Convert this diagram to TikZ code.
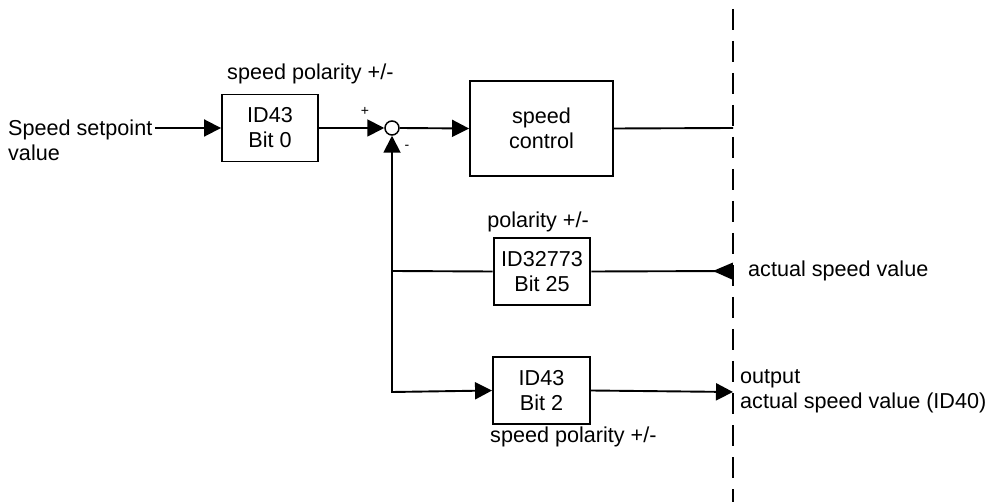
\documentclass[tikz,border=0pt]{standalone}
\usepackage{fontspec}
\setmainfont{Liberation Sans}
\usetikzlibrary{arrows.meta}
\begin{document}
\begin{tikzpicture}[x=1pt,y=-1pt,
  txt/.style={font=\fontsize{21.6}{25}\selectfont, inner sep=0pt, align=left},
  blk/.style={draw, line width=1.9pt, font=\fontsize{21.6}{25}\selectfont, align=center, inner sep=0pt},
  conn/.style={line width=1.9pt},
  arr/.style={conn, -{Triangle[length=17pt,width=17pt]}},
  sgn/.style={font=\fontsize{14}{16}\selectfont, inner sep=0pt}]
\useasboundingbox (0,0) rectangle (985,502);
% boundary
\draw[line width=2.8pt, dash pattern=on 21pt off 11pt] (733,9) -- (733,502);
% blocks
\node[blk, minimum width=96pt, minimum height=67pt] (b0) at (270,128) {ID43\\Bit 0};
\node[draw, line width=1.5pt, circle, minimum size=14pt, inner sep=0pt] (sum) at (392,128) {};
\node[blk, minimum width=143pt, minimum height=95pt] (sc) at (541.5,128.5) {speed\\control};
\node[blk, line width=2.8pt, minimum width=96pt, minimum height=67pt] (b25) at (542,271.5) {ID32773\\Bit 25};
\node[blk, minimum width=97pt, minimum height=67pt] (b2) at (541.5,390.5) {ID43\\Bit 2};
% labels
\node[txt, anchor=west] (inlab) at (8,140) {Speed setpoint\\value};
\node[txt, anchor=west] (pol0) at (227,74) {speed polarity +/-};
\node[txt] (pol25) at (538,222) {polarity +/-};
\node[txt, anchor=west] (pol2) at (490,437) {speed polarity +/-};
\node[txt, anchor=west] (act) at (748,271) {actual speed value};
\node[txt, anchor=west] (out) at (740,391) {output\\actual speed value (ID40)};
\node[sgn] (plus) at (365,111) {+};
\node[sgn] (minus) at (407,147) {-};
% coordinates
\coordinate (inS) at (155,128);
\coordinate (scE) at (733,128);
\coordinate (fb) at (392,271);
\coordinate (fbB) at (392,392);
\coordinate (actE) at (733,271);
\coordinate (outE) at (733,392);
% connectors
\draw[arr] (inS) -- (b0.west);
\draw[arr] (b0.east) -- (sum.west);
\draw[arr] (sum.east) -- (sc.west);
\draw[conn] (sc.east) -- (scE);
\draw[conn] (b25.west) -- (fb);
\draw[arr] (fb) -- (sum.south);
\draw[arr] (fb) -- (fbB) -- (b2.west);
\draw[conn] (b25.east) -- (actE);
\fill (actE) ++(0,-8.5) -- (713,271) -- ++(19,8.5) -- cycle;
\draw[arr] (b2.east) -- (outE);
\end{tikzpicture}
\end{document}
